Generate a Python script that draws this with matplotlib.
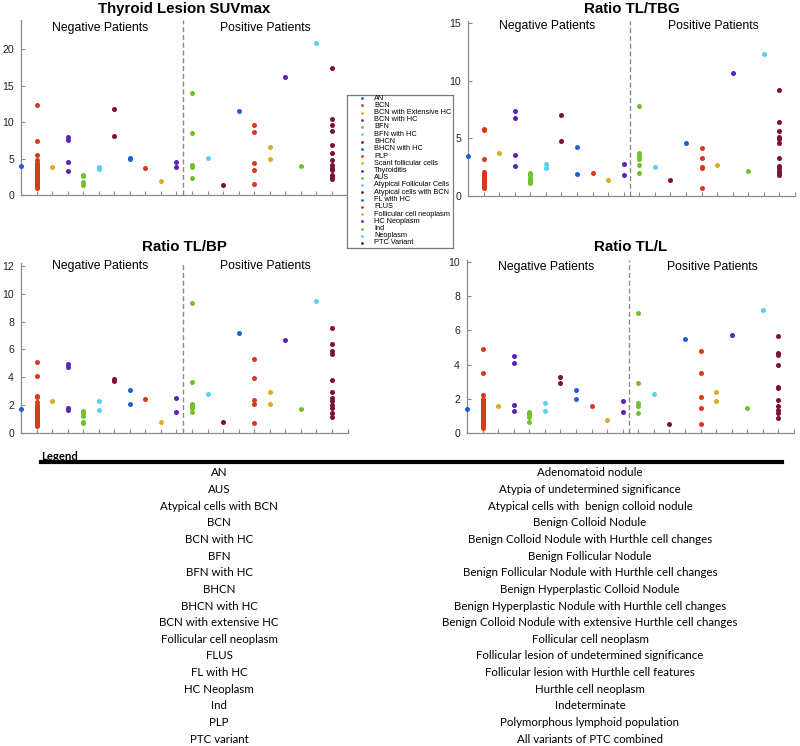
"""Thyroid lesion uptake by cytology category: four dot panels plus legend table."""

import numpy as np
import matplotlib
matplotlib.use("Agg")
import matplotlib.pyplot as plt
from matplotlib.lines import Line2D

W, H = 800, 746

categories = [
    "AN", "BCN", "BCN with Extensive HC", "BCN with HC", "BFN", "BFN with HC",
    "BHCN", "BHCN with HC", "PLP", "Scant follicular cells", "Thyroiditis",
    "AUS", "Atypical Follicular Cells", "Atypical cells with BCN", "FL with HC",
    "FLUS", "Follicular cell neoplasm", "HC Neoplasm", "Ind", "Neoplasm", "PTC Variant",
]

suvmax = [
    [4.0],
    [12.3, 7.4, 5.5, 4.8, 4.35, 4.1, 3.9, 3.7, 3.5, 3.3, 3.1, 2.9, 2.7, 2.5, 2.3,
     2.1, 1.9, 1.7, 1.5, 1.3, 1.1, 0.9],
    [3.9],
    [8.0, 7.5, 4.5, 3.3],
    [2.8, 2.6, 1.8, 1.4],
    [3.9, 3.6],
    [11.8, 8.1],
    [5.1, 4.9],
    [3.7],
    [1.9],
    [4.5, 3.9],
    [14.0, 8.5, 4.1, 3.85, 2.4],
    [5.1],
    [1.4],
    [11.5],
    [9.6, 8.7, 4.4, 3.5, 1.5],
    [6.6, 5.0],
    [16.2],
    [4.0],
    [20.9],
    [17.5, 10.5, 9.6, 8.8, 6.8, 5.8, 4.85, 4.1, 3.7, 3.4, 2.8, 2.5, 2.15],
]

ratio_tbg = [
    [3.5],
    [5.85, 5.75, 3.25, 2.1, 2.0, 1.9, 1.8, 1.7, 1.6, 1.5, 1.4, 1.3, 1.2, 1.1, 1.0,
     0.9, 0.8, 0.7],
    [3.7],
    [7.4, 6.8, 3.55, 2.6],
    [2.0, 1.8, 1.6, 1.4, 1.2, 1.1],
    [2.75, 2.4],
    [7.0, 4.8],
    [4.25, 1.95],
    [2.0],
    [1.4],
    [2.75, 1.8],
    [7.8, 3.75, 3.5, 3.25, 2.7, 2.0],
    [2.5],
    [1.35],
    [4.6],
    [4.2, 3.3, 2.55, 2.4, 0.7],
    [2.65],
    [10.7],
    [2.2],
    [12.3],
    [9.2, 6.4, 5.6, 5.1, 4.9, 4.6, 3.3, 2.6, 2.4, 2.15, 2.0, 1.8],
]

ratio_bp = [
    [1.7],
    [5.1, 4.05, 2.65, 2.55, 2.2, 2.0, 1.9, 1.8, 1.7, 1.6, 1.5, 1.4, 1.3, 1.2, 1.1,
     1.0, 0.9, 0.8, 0.7, 0.6, 0.5],
    [2.3],
    [4.95, 4.7, 1.8, 1.65],
    [1.55, 1.4, 1.2, 0.75, 0.7],
    [2.3, 1.65],
    [3.9, 3.7],
    [3.1, 2.1],
    [2.4],
    [0.8],
    [2.5, 1.5],
    [9.35, 3.65, 2.1, 1.95, 1.8, 1.5],
    [2.8],
    [0.75],
    [7.2],
    [5.3, 3.95, 2.35, 2.1, 0.7],
    [2.95, 2.05],
    [6.65],
    [1.7],
    [9.5],
    [7.55, 6.35, 5.85, 5.65, 3.8, 2.9, 2.5, 2.25, 2.0, 1.75, 1.45, 1.1],
]

ratio_l = [
    [1.4],
    [4.9, 3.5, 2.2, 2.0, 1.9, 1.8, 1.7, 1.6, 1.5, 1.4, 1.3, 1.2, 1.1, 1.0, 0.9,
     0.8, 0.7, 0.6, 0.5, 0.4, 0.3],
    [1.6],
    [4.5, 4.1, 1.65, 1.3],
    [1.2, 1.1, 0.95, 0.62],
    [1.75, 1.3],
    [3.3, 2.9],
    [2.5, 2.0],
    [1.6],
    [0.75],
    [1.9, 1.25],
    [7.0, 2.95, 1.75, 1.6, 1.15],
    [2.3],
    [0.55],
    [5.5],
    [4.8, 3.5, 2.1, 1.45, 0.55],
    [2.4, 1.85],
    [5.75],
    [1.45],
    [7.2],
    [5.65, 4.65, 4.55, 4.0, 2.7, 2.65, 1.95, 1.6, 1.35, 1.15, 0.85],
]

palette = ["#1d5fd6", "#d8391c", "#e2a926", "#5a23b6", "#72c02c", "#5ccff0", "#7d1131"]

abbrevs = [
    "AN", "AUS", "Atypical cells with BCN", "BCN", "BCN with HC", "BFN",
    "BFN with HC", "BHCN", "BHCN with HC", "BCN with extensive HC",
    "Follicular cell neoplasm", "FLUS", "FL with HC", "HC Neoplasm", "Ind",
    "PLP", "PTC variant",
]
meanings = [
    "Adenomatoid nodule", "Atypia of undetermined significance",
    "Atypical cells with  benign colloid nodule", "Benign Colloid Nodule",
    "Benign Colloid Nodule with Hurthle cell changes", "Benign Follicular Nodule",
    "Benign Follicular Nodule with Hurthle cell changes",
    "Benign Hyperplastic Colloid Nodule",
    "Benign Hyperplastic Nodule with Hurthle cell changes",
    "Benign Colloid Nodule with extensive Hurthle cell changes",
    "Follicular cell neoplasm", "Follicular lesion of undetermined significance",
    "Follicular lesion with Hurthle cell features", "Hurthle cell neoplasm",
    "Indeterminate", "Polymorphous lymphoid population",
    "All variants of PTC combined",
]

plt.rcParams["font.family"] = ["Liberation Sans", "DejaVu Sans"]
fig = plt.figure(figsize=(W / 100, H / 100), dpi=100)


def rect(left, right, bottom, top):
    return [left / W, 1 - bottom / H, (right - left) / W, (bottom - top) / H]


# (values, title, ylim, yticks, axes rect in px, label height)
panels = [
    (suvmax, "Thyroid Lesion SUVmax", 24, [0, 5, 10, 15, 20], rect(21, 347.5, 195, 20.2), 22.9, 9),
    (ratio_tbg, "Ratio TL/TBG", 15.2, [0, 5, 10, 15], rect(468, 795, 196, 20.7), 14.7, 9),
    (ratio_bp, "Ratio TL/BP", 12.2, [0, 2, 4, 6, 8, 10, 12], rect(21, 347.5, 432.7, 263.2), 12.0, 247),
    (ratio_l, "Ratio TL/L", 10.1, [0, 2, 4, 6, 8, 10], rect(467, 794, 433, 260.3), 9.7, 247),
]

for values, title, ytop, yticks, r, label_y, title_px in panels:
    ax = fig.add_axes(r)
    for i, vals in enumerate(values):
        ax.plot(np.full(len(vals), i), vals, "o", ms=3.6, mew=0,
                color=palette[i % 7], clip_on=False, zorder=3)
    ax.set_xlim(0, 21)
    ax.set_ylim(0, ytop)
    ax.set_xticks(np.arange(1, 22))
    ax.set_xticklabels([])
    ax.set_yticks(yticks)
    for side in ("top", "right"):
        ax.spines[side].set_visible(False)
    for side in ("left", "bottom"):
        ax.spines[side].set_color("#8a8a8a")
        ax.spines[side].set_linewidth(0.9)
    ax.tick_params(axis="both", direction="in", length=3, width=0.8, color="#8a8a8a",
                   labelsize=7.6, labelcolor="#222222", pad=5)
    ax.axvline(10.4, color="#8a8a8a", lw=1.0, ls=(0, (3.6, 2.0)), zorder=1)
    ax.text(5.1, label_y, "Negative Patients", ha="center", va="center", fontsize=8.8)
    ax.text(15.75, label_y, "Positive Patients", ha="center", va="center", fontsize=8.8)
    cx = r[0] + r[2] / 2
    fig.text(cx, 1 - title_px / H, title, ha="center", va="center",
             fontsize=10.8, fontweight="bold")

# legend box for the point categories
leg = fig.add_axes(rect(347, 453, 248, 95))
leg.set_xlim(0, 1)
leg.set_ylim(248, 95)
leg.set_xticks([])
leg.set_yticks([])
for s in leg.spines.values():
    s.set_color("#7a7a7a")
    s.set_linewidth(0.9)
for i, name in enumerate(categories):
    y = 98 + 7.25 * i
    leg.plot(0.145, y, "o", ms=2.0, mew=0, color=palette[i % 7])
    leg.text(0.255, y, name, fontsize=5.3, va="center", ha="left")

# abbreviation table under the plots
tfont = ["Lato", "DejaVu Sans"]
fig.text(41 / W, 1 - 456 / H, "Legend", ha="left", va="center", fontsize=8.2,
         family=tfont, fontweight="bold")
fig.add_artist(Line2D([41 / W, 782 / W], [1 - 462 / H, 1 - 462 / H],
                      color="black", lw=3.0, transform=fig.transFigure))
for i, (ab, mean) in enumerate(zip(abbrevs, meanings)):
    y = 1 - (473 + 16.63 * i) / H
    fig.text(219 / W, y, ab, ha="center", va="center", fontsize=8.3, family=tfont)
    fig.text(590 / W, y, mean, ha="center", va="center", fontsize=8.3, family=tfont)

fig.savefig("out.png", dpi=100)
